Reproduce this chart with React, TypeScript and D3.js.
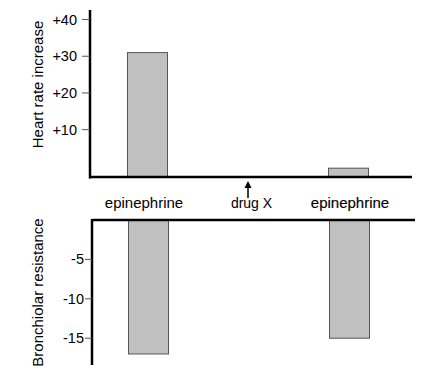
import React from "react";
import * as d3 from "d3";

const categoryKeys = ["epi1", "drugX", "epi2"];
const categoryLabels = ["epinephrine", "drug X", "epinephrine"];
const heartRate: (number | null)[] = [31, null, -0.5];
const bronchiolar: (number | null)[] = [-17, null, -15];
const heartTicks = [10, 20, 30, 40];
const bronchTicks = [-5, -10, -15];

const W = 439;
const H = 377;
const FONT = "Arial, 'Liberation Sans', Helvetica, sans-serif";

export default function App() {
  const x = d3.scalePoint<string>().domain(categoryKeys).range([147.5, 348.5]);
  const barW = 40;
  const labelShift = [-3.5, 3.5, 1.5];

  const yTop = d3.scaleLinear().domain([-2.9, 42.6]).range([177, 10]);
  const topFloor = -2.9;
  const yBot = d3.scaleLinear().domain([0, -18.4]).range([220, 365]);

  return (
    <svg width={W} height={H} style={{ position: "absolute", left: 0, top: 0, background: "#fff" }} fontFamily={FONT}>
      <rect x={0} y={0} width={W} height={H} fill="#fff" />
      {heartRate.map((v, i) =>
        v === null ? null : (
          <rect
            key={"h" + i}
            x={x(categoryKeys[i])! - barW / 2}
            y={yTop(v)}
            width={barW}
            height={yTop(topFloor) - yTop(v)}
            fill="#c0c0c0"
            stroke="#555"
            strokeWidth={1}
          />
        )
      )}
      <line x1={90} x2={90} y1={yTop(42.6)} y2={yTop(topFloor) + 1.5} stroke="#000" strokeWidth={2.5} />
      <line x1={89} x2={412} y1={yTop(topFloor)} y2={yTop(topFloor)} stroke="#000" strokeWidth={2.5} />
      {heartTicks.map((t) => (
        <g key={"ht" + t}>
          <line x1={82} x2={90} y1={yTop(t)} y2={yTop(t)} stroke="#555" strokeWidth={1} />
          <text x={77} y={yTop(t)} dy="0.35em" textAnchor="end" fontSize={14.5} fill="#000">
            {"+" + t}
          </text>
        </g>
      ))}
      <text
        transform={`translate(43,${(yTop(42.6) + yTop(topFloor)) / 2 - 9}) rotate(-90)`}
        textAnchor="middle"
        fontSize={15}
        fill="#000"
      >
        Heart rate increase
      </text>

      {categoryLabels.map((c, i) => (
        <text
          key={"c" + i}
          x={x(categoryKeys[i])! + labelShift[i]}
          y={208}
          textAnchor="middle"
          fontSize={i === 1 ? 14 : 15}
          fill="#000"
          stroke={i === 2 ? "#000" : "none"}
          strokeWidth={i === 2 ? 0.15 : 0}
        >
          {c}
        </text>
      ))}
      <line x1={x("drugX")!} x2={x("drugX")!} y1={186} y2={198} stroke="#000" strokeWidth={1.5} />
      <path
        d={`M${x("drugX")! - 3.5},${188} L${x("drugX")!},${181} L${x("drugX")! + 3.5},${188} Z`}
        fill="#000"
      />

      {bronchiolar.map((v, i) =>
        v === null ? null : (
          <rect
            key={"b" + i}
            x={x(categoryKeys[i])! - barW / 2 + 1}
            y={yBot(0)}
            width={barW}
            height={yBot(v) - yBot(0)}
            fill="#c0c0c0"
            stroke="#555"
            strokeWidth={1}
          />
        )
      )}
      <line x1={92} x2={415} y1={yBot(0)} y2={yBot(0)} stroke="#000" strokeWidth={2.5} />
      <line x1={92} x2={92} y1={yBot(0) - 1} y2={365} stroke="#000" strokeWidth={2.5} />
      {bronchTicks.map((t) => (
        <g key={"bt" + t}>
          <line x1={85} x2={92} y1={yBot(t)} y2={yBot(t)} stroke="#555" strokeWidth={1} />
          <text x={84} y={yBot(t)} dy="0.35em" textAnchor="end" fontSize={14.5} fill="#000">
            {String(t)}
          </text>
        </g>
      ))}
      <text
        transform={`translate(43,${(yBot(0) + 365) / 2}) rotate(-90)`}
        textAnchor="middle"
        fontSize={15}
        fill="#000"
      >
        Bronchiolar resistance
      </text>
    </svg>
  );
}
